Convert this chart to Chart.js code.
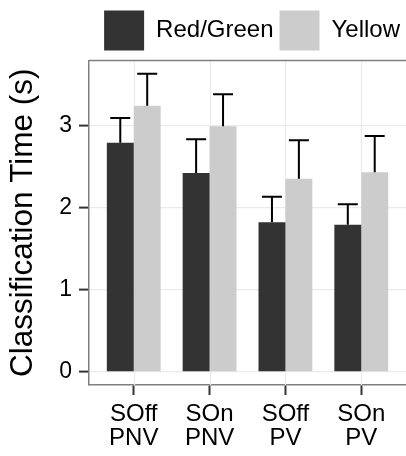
<!DOCTYPE html>
<html>
<head>
<meta charset="utf-8">
<script src="https://cdn.jsdelivr.net/npm/chart.js@4/dist/chart.umd.min.js"></script>
<style>
  html, body { margin: 0; padding: 0; background: #fff; overflow: hidden; }
  #wrap { width: 406px; height: 456px; }
  canvas { display: block; }
</style>
</head>
<body>
<div id="wrap"><canvas id="chart" width="406" height="456"></canvas></div>
<script>
const categories = [['SOff', 'PNV'], ['SOn', 'PNV'], ['SOff', 'PV'], ['SOn', 'PV']];
const seriesNames = ['Red/Green', 'Yellow'];
const redGreen = [2.79, 2.42, 1.82, 1.79];
const redGreenUpper = [3.09, 2.83, 2.13, 2.04];
const yellow = [3.24, 2.99, 2.35, 2.43];
const yellowUpper = [3.63, 3.38, 2.82, 2.87];
const yTicks = [0, 1, 2, 3];

const FONT = 'Liberation Sans, Arial, Helvetica, sans-serif';
const uppers = [redGreenUpper, yellowUpper];

// panel: vertical grid at each category + top border (ggplot-style box)
const panelBox = {
  id: 'panelBox',
  beforeDatasetsDraw(chart) {
    const { ctx, chartArea: a } = chart;
    const x = chart.scales.x;
    ctx.save();
    ctx.strokeStyle = '#ebebeb';
    ctx.lineWidth = 1.2;
    categories.forEach((c, i) => {
      const px = Math.round(x.getPixelForValue(i)) + 0.5;
      ctx.beginPath();
      ctx.moveTo(px, a.top);
      ctx.lineTo(px, a.bottom);
      ctx.stroke();
    });
    ctx.restore();
  },
  afterDraw(chart) {
    const { ctx, chartArea: a } = chart;
    ctx.save();
    ctx.strokeStyle = '#7f7f7f';
    ctx.lineWidth = 1.5;
    ctx.beginPath();
    ctx.moveTo(a.left, a.top);
    ctx.lineTo(a.right, a.top);
    ctx.stroke();
    ctx.restore();
  }
};

// upper error bars
const errorBars = {
  id: 'errorBars',
  afterDatasetsDraw(chart) {
    const { ctx } = chart;
    const y = chart.scales.y;
    ctx.save();
    ctx.strokeStyle = '#000';
    ctx.lineWidth = 2;
    chart.data.datasets.forEach((ds, di) => {
      chart.getDatasetMeta(di).data.forEach((bar, i) => {
        const top = y.getPixelForValue(uppers[di][i]);
        ctx.beginPath();
        ctx.moveTo(bar.x, bar.y);
        ctx.lineTo(bar.x, top);
        ctx.moveTo(bar.x - 10, top);
        ctx.lineTo(bar.x + 10, top);
        ctx.stroke();
      });
    });
    ctx.restore();
  }
};

new Chart(document.getElementById('chart'), {
  type: 'bar',
  data: {
    datasets: [
      { label: seriesNames[0], data: redGreen.map((v, i) => ({ x: i, y: v })), backgroundColor: '#333333' },
      { label: seriesNames[1], data: yellow.map((v, i) => ({ x: i, y: v })), backgroundColor: '#cccccc' }
    ]
  },
  options: {
    responsive: false,
    animation: false,
    categoryPercentage: 0.71,
    barPercentage: 1,
    layout: { padding: { top: 4.5, left: 0, right: 0, bottom: 0 } },
    plugins: {
      tooltip: { enabled: false },
      legend: {
        position: 'top',
        align: 'end',
        labels: {
          boxWidth: 40, boxHeight: 40, padding: 6,
          color: '#000',
          font: { family: FONT, size: 24 }
        }
      }
    },
    scales: {
      x: {
        type: 'linear',
        offset: false,
        min: -0.59, max: 3.59,
        afterBuildTicks: s => { s.ticks = categories.map((c, i) => ({ value: i })); },
        afterFit: s => { s.height = 71; },
        grid: {
          offset: false, drawOnChartArea: false,
          tickWidth: 2, tickLength: 10, tickColor: '#333'
        },
        border: { color: '#7f7f7f', width: 1.5 },
        ticks: {
          padding: 7, color: '#000', maxRotation: 0, autoSkip: false,
          font: { family: FONT, size: 24, lineHeight: 1.0 },
          callback: v => categories[v]
        }
      },
      y: {
        min: -0.16, max: 3.79,
        afterBuildTicks: s => { s.ticks = yTicks.map(v => ({ value: v })); },
        afterFit: s => { s.width = 89; },
        grid: { color: '#ebebeb', lineWidth: 1.2, tickColor: '#333', tickWidth: 2, tickLength: 10 },
        border: { color: '#7f7f7f', width: 1.5 },
        ticks: { padding: 7, color: '#000', font: { family: FONT, size: 23 } },
        title: {
          display: true, text: 'Classification Time (s)', color: '#000',
          font: { family: FONT, size: 31.5 }, padding: { top: 4, bottom: 0 }
        }
      }
    }
  },
  plugins: [panelBox, errorBars]
});
</script>
</body>
</html>
